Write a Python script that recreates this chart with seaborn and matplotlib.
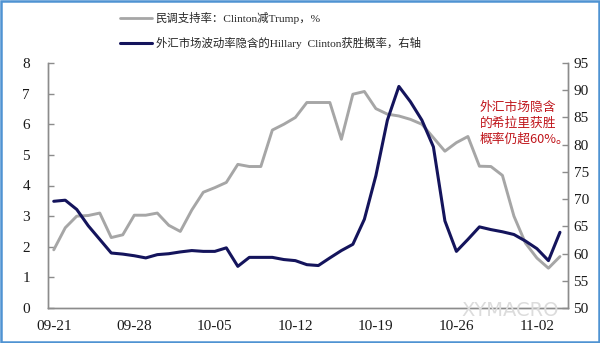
import numpy as np
import pandas as pd
import matplotlib
matplotlib.use("Agg")
import matplotlib.pyplot as plt
import seaborn as sns
from matplotlib.patches import Rectangle
from matplotlib.lines import Line2D

# ---- data ----
dates = pd.date_range("2016-09-21", "2016-11-04", freq="D")
poll_spread = [1.9, 2.62, 3.0, 3.02, 3.1, 2.3, 2.39, 3.03, 3.03, 3.1,
               2.7, 2.5, 3.2, 3.78, 3.93, 4.1, 4.69, 4.62, 4.62, 5.81,
               6.0, 6.22, 6.71, 6.71, 6.71, 5.51, 6.98, 7.07, 6.51, 6.33,
               6.27, 6.16, 6.0, 5.56, 5.12, 5.4, 5.6, 4.63, 4.62, 4.33,
               3.0, 2.12, 1.63, 1.3, 1.68]
fx_prob = [69.6, 69.8, 68.1, 65.1, 62.6, 60.1, 59.9, 59.6, 59.2, 59.8,
           59.97, 60.3, 60.55, 60.4, 60.4, 61.05, 57.65, 59.3, 59.3, 59.3,
           58.9, 58.7, 57.96, 57.8, 59.2, 60.55, 61.7, 66.3, 74.3, 84.5,
           90.7, 87.9, 84.5, 79.6, 66.0, 60.4, 62.6, 64.9, 64.4, 64.0,
           63.5, 62.3, 60.9, 58.7, 63.9]
tick_dates = ["09-21", "09-28", "10-05", "10-12", "10-19", "10-26", "11-02"]
label_poll = "民调支持率：Clinton减Trump，%"
label_fx = "外汇市场波动率隐含的Hillary  Clinton获胜概率，右轴"
note = "外汇市场隐含\n的希拉里获胜\n概率仍超60%。"

df = pd.DataFrame({"day": np.arange(len(dates)), "poll": poll_spread, "fx": fx_prob})

sns.set_style("white")
plt.rcParams["font.family"] = ["Liberation Serif", "Noto Sans CJK SC", "DejaVu Sans"]

fig = plt.figure(figsize=(6, 3.43), dpi=100)
ax = fig.add_axes([48/600, 1-308/343, (568-48)/600, (308-63)/343])
ax2 = ax.twinx()

gray = "#a6a6a6"
navy = "#14145c"
sns.lineplot(data=df, x="day", y="poll", ax=ax, color=gray, lw=2.1)
sns.lineplot(data=df, x="day", y="fx", ax=ax2, color=navy, lw=2.2)

ax.set_xlim(-0.5, len(dates) - 0.3)
ax.set_ylim(0, 8)
ax2.set_ylim(50, 95)
ax.set_xlabel("")
ax.set_ylabel("")
ax2.set_ylabel("")

spine_c = "#8c8c8c"
for a in (ax, ax2):
    a.spines["top"].set_visible(False)
    for s in ["left", "right", "bottom"]:
        a.spines[s].set_color(spine_c)
        a.spines[s].set_linewidth(1.0)

ax.set_yticks(np.arange(0, 9, 1))
ax.tick_params(axis="y", direction="in", length=4, width=1, color=spine_c, pad=13,
               labelsize=11)
ax2.set_yticks(np.arange(50, 96, 5))
ax2.tick_params(axis="y", direction="in", length=4, width=1, color=spine_c, pad=4,
                labelsize=11)

# x ticks: marks at week boundaries, labels at day centres
tick_pos = [dates.get_loc(pd.Timestamp("2016-" + t)) for t in tick_dates]
ax.set_xticks([p - 0.5 for p in tick_pos])
ax.set_xticklabels([])
ax.tick_params(axis="x", which="major", direction="in", length=4, width=1, color=spine_c)
ax.set_xticks(tick_pos, minor=True)
ax.set_xticklabels(tick_dates, minor=True)
ax.tick_params(axis="x", which="minor", length=0, pad=9, labelsize=11)

for lbl in ax.get_yticklabels() + ax2.get_yticklabels() + ax.get_xticklabels(minor=True):
    lbl.set_color("#1a1a1a")

# legend
handles = [Line2D([], [], color=gray, lw=2.0), Line2D([], [], color=navy, lw=2.2)]
fig.legend(handles, [label_poll, label_fx], loc="upper left",
           bbox_to_anchor=(110/600, 1 - 2/343), frameon=False,
           prop={"family": ["Liberation Serif", "Noto Sans CJK SC"], "size": 8.2},
           handlelength=2.8, handletextpad=0.3, labelspacing=1.15)

# annotation
ax.text(0.83, 0.845, note, transform=ax.transAxes, color="#c0161c", fontsize=9.2,
        family=["Noto Sans CJK SC", "DejaVu Sans"], va="top", ha="left", linespacing=1.3)

# watermark
fig.text(510/600, 1 - 311/343, "XYMACRO", color="#dcdcdc", fontsize=14,
         family="DejaVu Sans", ha="center", va="center")

# frame
fig.patches.append(Rectangle((0.002, 0.003), 0.996, 0.994, transform=fig.transFigure,
                             fill=False, edgecolor="#4f93d2", lw=1.8))

fig.savefig("out.png", dpi=100)
